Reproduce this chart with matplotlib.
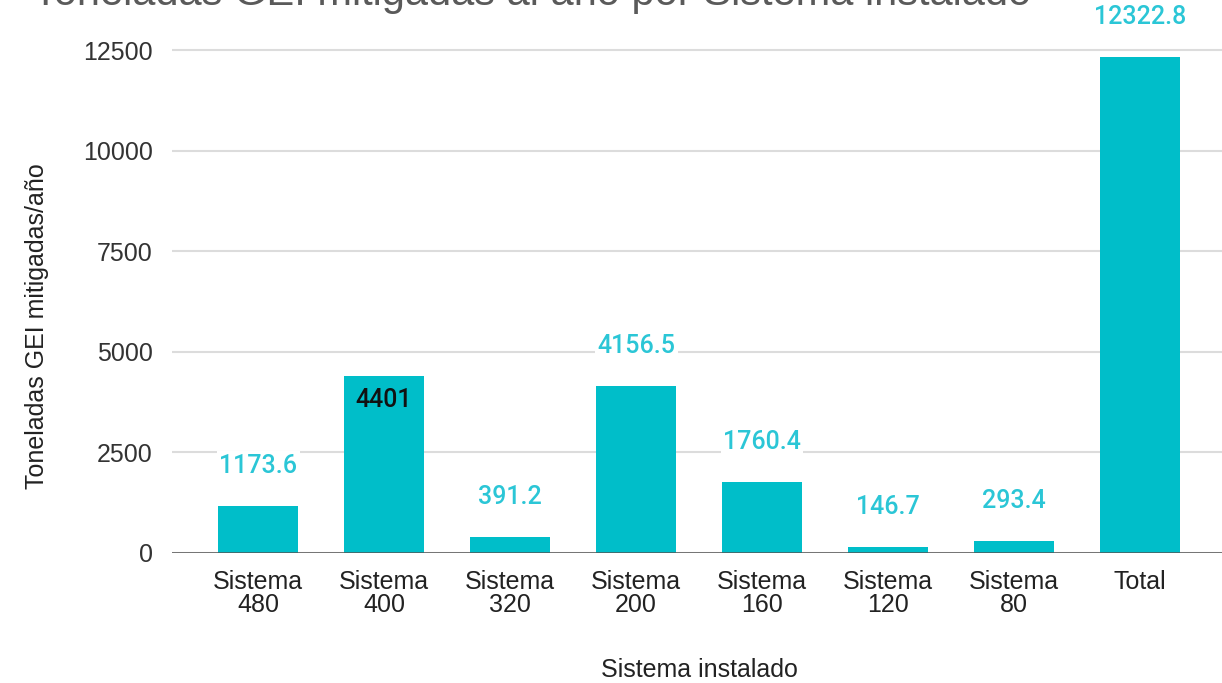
import matplotlib
matplotlib.use("Agg")
import matplotlib.pyplot as plt

categories = ["Sistema\n480", "Sistema\n400", "Sistema\n320", "Sistema\n200",
              "Sistema\n160", "Sistema\n120", "Sistema\n80", "Total"]
values = [1173.6, 4401, 391.2, 4156.5, 1760.4, 146.7, 293.4, 12322.8]
value_labels = ["1173.6", "4401", "391.2", "4156.5", "1760.4", "146.7", "293.4", "12322.8"]
y_ticks = [0, 2500, 5000, 7500, 10000, 12500]

W, H = 1222, 683
fig = plt.figure(figsize=(W / 100, H / 100), dpi=100)
plt.rcParams['font.family'] = ['Liberation Sans', 'DejaVu Sans']

ax_left, ax_right = 172, 1226
ax_top, ax_bottom = 0, 553
ax = fig.add_axes([ax_left / W, (H - ax_bottom) / H, (ax_right - ax_left) / W, (ax_bottom - ax_top) / H])

bar_color = "#00BEC9"
label_color = "#2BC6D6"
x = list(range(len(categories)))
ax.bar(x, values, width=0.635, color=bar_color, zorder=3)

ax.set_xlim(-0.683, 7.683)
ax.set_ylim(0, 13750)
ax.set_yticks(y_ticks)
ax.set_yticklabels([str(t) for t in y_ticks], fontsize=18, color="#333333")
ax.set_xticks(x)
ax.set_xticklabels(categories, fontsize=18, color="#222222", linespacing=0.95)
ax.tick_params(axis='both', length=0)
ax.tick_params(axis='y', pad=14)
ax.tick_params(axis='x', pad=12)

for s in ["top", "right", "left", "bottom"]:
    ax.spines[s].set_visible(False)
ax.grid(axis='y', color="#dcdcdc", linewidth=1.5, zorder=0)
ax.set_axisbelow(True)
ax.axhline(0, color="#555555", linewidth=1.8, zorder=4)

for i, (v, lab) in enumerate(zip(values, value_labels)):
    if lab == "4401":
        ax.annotate(lab, (i, v), xytext=(0, -24), textcoords="offset pixels",
                    ha="center", va="center", fontsize=18, color="#111111",
                    family=["Roboto", "DejaVu Sans"], fontweight="medium", zorder=5)
    else:
        ax.annotate(lab, (i, v), xytext=(0, 40), textcoords="offset pixels",
                    ha="center", va="center", fontsize=18, color=label_color,
                    family=["Roboto", "DejaVu Sans"], fontweight="medium", zorder=5,
                    bbox=dict(boxstyle="square,pad=0.1", fc="white", ec="none"))

fig.text(37 / W, 1 - 326 / H, "Toneladas GEI mitigadas/año", rotation=90,
         ha="center", va="center", fontsize=18, color="#222222")
fig.text(699 / W, 1 - 670 / H, "Sistema instalado", ha="center", va="center",
         fontsize=18, color="#222222")
fig.text(33 / W, 1 - 5 / H, "Toneladas GEI mitigadas al año por Sistema instalado",
         ha="left", va="baseline", fontsize=30, color="#5a5a5a")

fig.savefig("out.png", dpi=100)
